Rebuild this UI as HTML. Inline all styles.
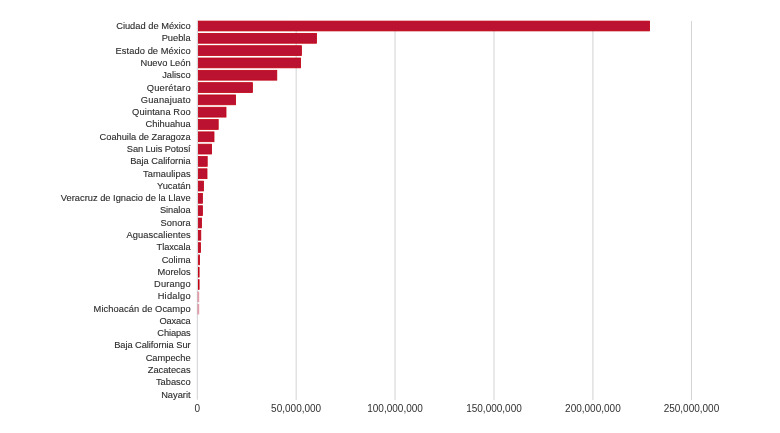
<!DOCTYPE html>
<html><head><meta charset="utf-8"><style>
html,body{margin:0;padding:0;background:#fff;width:780px;height:433px;overflow:hidden}
svg{display:block;will-change:transform}
text{font-family:"Liberation Sans",sans-serif;fill:#2c2c2c;stroke:#2c2c2c;stroke-width:0.12px}
.yl{font-size:9.3px;text-anchor:end}
.xl{font-size:10px;text-anchor:middle;fill:#303030;stroke:none}
</style></head><body>
<svg width="780" height="433" viewBox="0 0 780 433">
<rect width="780" height="433" fill="#fff"/>
<rect x="295.65" y="21" width="1" height="379.1" fill="#d3d3d3"/>
<rect x="394.55" y="21" width="1" height="379.1" fill="#d3d3d3"/>
<rect x="493.50" y="21" width="1" height="379.1" fill="#d3d3d3"/>
<rect x="592.40" y="21" width="1" height="379.1" fill="#d3d3d3"/>
<rect x="690.95" y="21" width="1" height="379.1" fill="#d3d3d3"/>
<rect x="196.80" y="20.4" width="1" height="379.3" fill="#d2d2d6"/>
<rect x="198.40" y="21.10" width="451.20" height="9.80" fill="#bc1232" stroke="#c0000f" stroke-width="0.8"/>
<text class="yl" x="190.6" y="29.20">Ciudad de México</text>
<rect x="198.40" y="33.41" width="118.10" height="9.80" fill="#bc1232" stroke="#c0000f" stroke-width="0.8"/>
<text class="yl" x="190.6" y="41.48">Puebla</text>
<rect x="198.40" y="45.72" width="103.00" height="9.80" fill="#bc1232" stroke="#c0000f" stroke-width="0.8"/>
<text class="yl" x="190.6" y="53.76" textLength="75.01" lengthAdjust="spacing">Estado de México</text>
<rect x="198.40" y="58.03" width="102.20" height="9.80" fill="#bc1232" stroke="#c0000f" stroke-width="0.8"/>
<text class="yl" x="190.6" y="66.04">Nuevo León</text>
<rect x="198.40" y="70.34" width="78.40" height="9.80" fill="#bc1232" stroke="#c0000f" stroke-width="0.8"/>
<text class="yl" x="190.6" y="78.32">Jalisco</text>
<rect x="198.40" y="82.65" width="54.00" height="9.80" fill="#bc1232" stroke="#c0000f" stroke-width="0.8"/>
<text class="yl" x="190.6" y="90.60" textLength="43.96" lengthAdjust="spacing">Querétaro</text>
<rect x="198.40" y="94.96" width="37.20" height="9.80" fill="#bc1232" stroke="#c0000f" stroke-width="0.8"/>
<text class="yl" x="190.6" y="102.88" textLength="49.78" lengthAdjust="spacing">Guanajuato</text>
<rect x="198.40" y="107.27" width="27.60" height="9.80" fill="#bc1232" stroke="#c0000f" stroke-width="0.8"/>
<text class="yl" x="190.6" y="115.16" textLength="58.48" lengthAdjust="spacing">Quintana Roo</text>
<rect x="198.40" y="119.58" width="19.80" height="9.80" fill="#bc1232" stroke="#c0000f" stroke-width="0.8"/>
<text class="yl" x="190.6" y="127.44">Chihuahua</text>
<rect x="198.40" y="131.89" width="15.60" height="9.80" fill="#bc1232" stroke="#c0000f" stroke-width="0.8"/>
<text class="yl" x="190.6" y="139.72" textLength="90.98" lengthAdjust="spacing">Coahuila de Zaragoza</text>
<rect x="198.40" y="144.20" width="13.20" height="9.80" fill="#bc1232" stroke="#c0000f" stroke-width="0.8"/>
<text class="yl" x="190.6" y="152.00" textLength="63.83" lengthAdjust="spacing">San Luis Potosí</text>
<rect x="198.40" y="156.51" width="8.80" height="9.80" fill="#bc1232" stroke="#c0000f" stroke-width="0.8"/>
<text class="yl" x="190.6" y="164.28">Baja California</text>
<rect x="198.40" y="168.82" width="8.60" height="9.80" fill="#bc1232" stroke="#c0000f" stroke-width="0.8"/>
<text class="yl" x="190.6" y="176.56" textLength="47.53" lengthAdjust="spacing">Tamaulipas</text>
<rect x="198.40" y="181.13" width="5.10" height="9.80" fill="#bc1232" stroke="#c0000f" stroke-width="0.8"/>
<text class="yl" x="190.6" y="188.84">Yucatán</text>
<rect x="198.40" y="193.44" width="4.00" height="9.80" fill="#bc1232" stroke="#c0000f" stroke-width="0.8"/>
<text class="yl" x="190.6" y="201.12">Veracruz de Ignacio de la Llave</text>
<rect x="198.40" y="205.75" width="4.00" height="9.80" fill="#bc1232" stroke="#c0000f" stroke-width="0.8"/>
<text class="yl" x="190.6" y="213.40" textLength="30.62" lengthAdjust="spacing">Sinaloa</text>
<rect x="198.40" y="218.06" width="3.10" height="9.80" fill="#bc1232" stroke="#c0000f" stroke-width="0.8"/>
<text class="yl" x="190.6" y="225.68">Sonora</text>
<rect x="198.40" y="230.37" width="2.40" height="9.80" fill="#bc1232" stroke="#c0000f" stroke-width="0.8"/>
<text class="yl" x="190.6" y="237.96" textLength="64.06" lengthAdjust="spacing">Aguascalientes</text>
<rect x="198.40" y="242.68" width="2.10" height="9.80" fill="#bc1232" stroke="#c0000f" stroke-width="0.8"/>
<text class="yl" x="190.6" y="250.24" textLength="34.02" lengthAdjust="spacing">Tlaxcala</text>
<rect x="198.40" y="254.99" width="1.10" height="9.80" fill="#bc1232" stroke="#c0000f" stroke-width="0.8"/>
<text class="yl" x="190.6" y="262.52">Colima</text>
<rect x="198.40" y="267.30" width="0.70" height="9.80" fill="#bc1232" stroke="#c0000f" stroke-width="0.8"/>
<text class="yl" x="190.6" y="274.80">Morelos</text>
<rect x="198.40" y="279.61" width="0.70" height="9.80" fill="#bc1232" stroke="#c0000f" stroke-width="0.8"/>
<text class="yl" x="190.6" y="287.08" textLength="36.57" lengthAdjust="spacing">Durango</text>
<rect x="197.5" y="291.52" width="1.7" height="10.60" fill="#b8001f" fill-opacity="0.38"/>
<text class="yl" x="190.6" y="299.36" textLength="32.93" lengthAdjust="spacing">Hidalgo</text>
<rect x="197.5" y="303.83" width="1.7" height="10.60" fill="#b8001f" fill-opacity="0.38"/>
<text class="yl" x="190.6" y="311.64" textLength="97.01" lengthAdjust="spacing">Michoacán de Ocampo</text>
<text class="yl" x="190.6" y="323.92" textLength="31.15" lengthAdjust="spacing">Oaxaca</text>
<text class="yl" x="190.6" y="336.20" textLength="33.23" lengthAdjust="spacing">Chiapas</text>
<text class="yl" x="190.6" y="348.48" textLength="76.42" lengthAdjust="spacing">Baja California Sur</text>
<text class="yl" x="190.6" y="360.76">Campeche</text>
<text class="yl" x="190.6" y="373.04">Zacatecas</text>
<text class="yl" x="190.6" y="385.32">Tabasco</text>
<text class="yl" x="190.6" y="397.60">Nayarit</text>
<text class="xl" x="197.30" y="412">0</text>
<text class="xl" x="296.15" y="412">50,000,000</text>
<text class="xl" x="395.05" y="412">100,000,000</text>
<text class="xl" x="494.00" y="412">150,000,000</text>
<text class="xl" x="592.90" y="412">200,000,000</text>
<text class="xl" x="691.45" y="412">250,000,000</text>
</svg>
</body></html>
